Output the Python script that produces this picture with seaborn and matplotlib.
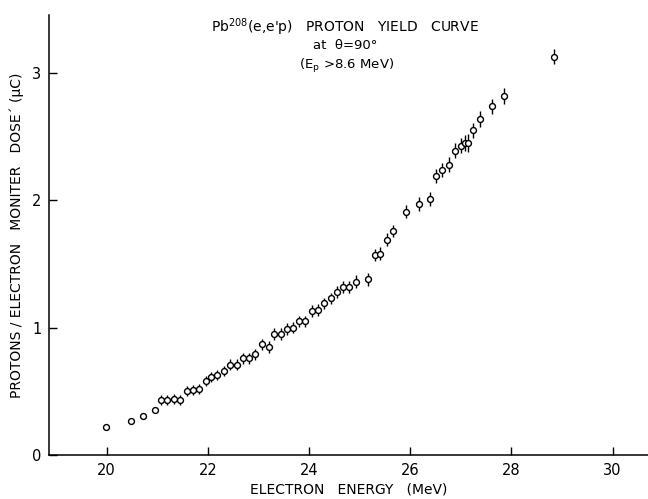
import matplotlib
matplotlib.use("Agg")
import matplotlib.pyplot as plt
import seaborn as sns
import pandas as pd

# Data
energy = [19.98, 20.48, 20.72, 20.96, 21.08, 21.20, 21.34, 21.45, 21.59, 21.71,
          21.83, 21.96, 22.07, 22.18, 22.32, 22.44, 22.57, 22.69, 22.81, 22.94,
          23.08, 23.20, 23.31, 23.44, 23.56, 23.69, 23.81, 23.92, 24.06, 24.18,
          24.29, 24.43, 24.55, 24.67, 24.79, 24.92, 25.16, 25.30, 25.41, 25.55,
          25.66, 25.91, 26.17, 26.40, 26.51, 26.63, 26.76, 26.89, 27.00, 27.08,
          27.15, 27.25, 27.38, 27.61, 27.85, 28.84]
yield_ = [0.22, 0.27, 0.31, 0.35, 0.43, 0.43, 0.44, 0.43, 0.50, 0.51,
          0.52, 0.58, 0.61, 0.63, 0.66, 0.71, 0.71, 0.76, 0.76, 0.79,
          0.87, 0.85, 0.95, 0.95, 0.99, 1.00, 1.05, 1.05, 1.13, 1.14,
          1.19, 1.23, 1.28, 1.32, 1.32, 1.36, 1.38, 1.57, 1.58, 1.69,
          1.76, 1.91, 1.97, 2.01, 2.19, 2.24, 2.28, 2.39, 2.43, 2.45,
          2.45, 2.55, 2.64, 2.74, 2.82, 3.13]
errors = [0.015, 0.015, 0.02, 0.02, 0.04, 0.04, 0.04, 0.04, 0.04, 0.04,
          0.04, 0.04, 0.04, 0.04, 0.04, 0.045, 0.045, 0.045, 0.045, 0.045,
          0.045, 0.045, 0.045, 0.045, 0.045, 0.045, 0.045, 0.045, 0.045, 0.045,
          0.045, 0.045, 0.05, 0.05, 0.05, 0.05, 0.05, 0.05, 0.05, 0.05,
          0.05, 0.05, 0.055, 0.055, 0.055, 0.055, 0.06, 0.06, 0.06, 0.06,
          0.07, 0.06, 0.06, 0.06, 0.06, 0.06]

x_ticks = [20, 22, 24, 26, 28, 30]
y_ticks = [0, 1, 2, 3]

df = pd.DataFrame({"energy": energy, "yield": yield_, "err": errors})

sns.set_style("ticks")
plt.rcParams['font.family'] = ['DejaVu Sans']
plt.rcParams.update({"text.color": "black", "axes.labelcolor": "black",
                     "xtick.color": "black", "ytick.color": "black",
                     "axes.edgecolor": "black"})

fig = plt.figure(figsize=(6.48, 4.99), dpi=100)
ax = fig.add_axes([49 / 648, 1 - 455 / 499, 1 - 49 / 648, (455 - 15) / 499])

ax.errorbar(df["energy"], df["yield"], yerr=df["err"], fmt="none",
            ecolor="black", elinewidth=1.0, capsize=0, zorder=2)
sns.scatterplot(data=df, x="energy", y="yield", ax=ax, marker="o", s=18,
                facecolor="white", edgecolor="black", linewidth=1.0, zorder=3)

ax.set_xlim(18.86, 30.70)
ax.set_ylim(0, 3.456)
ax.set_xticks(x_ticks)
ax.set_yticks(y_ticks)
ax.tick_params(direction="in", length=6, width=1, labelsize=10.5,
               color="black", labelcolor="black")
ax.tick_params(axis="x", pad=6)
ax.tick_params(axis="y", pad=5.5)
for s in ["top", "right"]:
    ax.spines[s].set_visible(False)
for s in ["left", "bottom"]:
    ax.spines[s].set_linewidth(1.1)
    ax.spines[s].set_color("black")

ax.set_xlabel("ELECTRON   ENERGY   (MeV)", fontsize=10, labelpad=3, color="black")
ax.set_ylabel("PROTONS / ELECTRON   MONITER   DOSE\u00b4 (\u03bcC)", fontsize=10,
              labelpad=6, color="black")

fig.text(0.533, 0.946, "Pb$^{208}$(e,e'p)   PROTON   YIELD   CURVE", ha="center",
         va="center", fontsize=10, color="black")
fig.text(0.532, 0.908, "at  \u03b8=90\u00b0", ha="center", va="center",
         fontsize=9.5, color="black")
fig.text(0.535, 0.868, "(E$_\\mathregular{p}$ >8.6 MeV)", ha="center", va="center",
         fontsize=9.5, color="black")

fig.savefig("out.png", dpi=100)
